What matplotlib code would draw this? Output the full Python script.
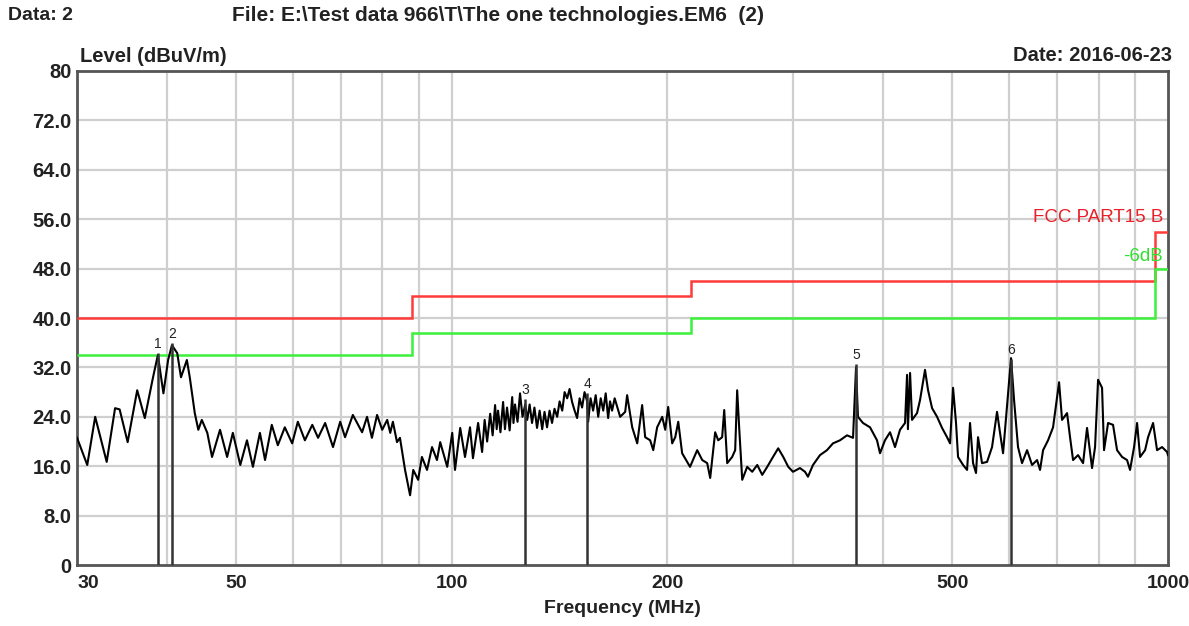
import matplotlib
matplotlib.use("Agg")
import matplotlib.pyplot as plt
from matplotlib import font_manager

freq = [30.0, 31.0, 31.8, 33.0, 33.9, 34.4, 35.3, 36.4, 37.3, 38.3, 38.9, 39.6, 40.2, 40.7, 41.4,
        41.9, 42.7, 43.1, 43.8, 44.3, 44.8, 45.6, 46.3, 47.5, 48.6, 49.5, 50.7, 51.8, 52.8, 54.0,
        54.9, 56.1, 57.2, 58.5, 59.9, 61.0, 62.4, 63.9, 65.1, 66.6, 68.3, 69.9, 71.0, 72.8,
        75.0, 76.2, 77.4, 78.7, 80.0, 81.3, 82.1, 82.8, 83.9, 84.7, 86.1, 87.5, 88.4, 89.8,
        90.9, 92.4, 93.9, 95.4, 96.4, 98.6, 100.2, 101.1, 102.8, 104.4, 106.1, 107.1, 108.9,
        110.3, 111.2, 112.1, 113.2, 114.1, 115.0, 115.6, 116.1, 117.0, 118.0, 118.7, 119.5,
        120.5, 121.5, 122.0, 122.6, 123.6, 124.6, 125.6, 126.7, 127.5, 128.5, 129.5, 130.5,
        131.6, 132.7, 133.8, 134.8, 135.9, 137.0, 138.1, 139.2, 140.4, 141.5, 142.7, 143.8,
        145.0, 146.1, 147.3, 148.5, 149.7, 150.9, 152.1, 153.3, 154.6, 155.1, 156.3, 157.6,
        158.9, 160.2, 161.5, 162.8, 164.1, 165.4, 166.4, 167.5, 168.9, 170.3,
        171.9, 174.7, 175.8, 178.7, 181.6, 184.5, 186.3, 189.3, 191.2, 193.6, 196.8, 198.7,
        200.6, 203.2, 205.2, 207.2, 209.8, 213.2, 215.2, 220.2, 223.8, 227.4, 229.6, 233.3,
        235.6, 238.6, 240.2, 242.5, 246.4, 248.8, 250.4, 252.0, 254.5, 258.6, 262.8, 267.1,
        271.4, 275.8, 280.3, 285.7, 290.4, 295.1, 299.6, 306.4, 311.4, 314.4, 319.5, 326.8,
        334.2, 340.7, 348.5, 356.4, 363.4, 366.9, 369.2, 375.2, 383.8, 392.5,
        396.3, 402.7, 409.3, 415.9, 422.6, 429.5, 432.3, 433.5, 436.5, 439.3, 446.4, 450.7,
        458.0, 462.5, 468.5, 476.1, 483.8, 491.6, 496.4, 501.2, 506.0, 509.3, 517.6, 524.3,
        529.3, 534.5, 539.6, 543.1, 550.1, 559.1, 568.1, 577.3, 582.9, 588.6, 598.1, 603.9,
        609.8, 617.6, 625.6, 635.8, 646.1, 656.6, 662.9, 669.4, 680.2, 691.2, 704.7, 711.5,
        723.0, 730.0, 737.1, 749.0, 761.2, 771.0, 783.5, 791.1, 798.8, 809.1, 814.3, 824.9,
        838.2, 849.1, 862.9, 876.8, 885.3, 896.8, 905.5, 914.3, 929.1, 938.1, 953.3, 965.6,
        981.3, 997.2, 1000.0]
level = [20.6, 16.2, 24.0, 16.7, 25.4, 25.2, 19.9, 28.3, 23.8, 30.4, 34.0, 27.8, 33.2, 35.6, 34.3,
         30.4, 33.2, 30.4, 24.6, 21.9, 23.5, 21.4, 17.5, 21.9, 17.5, 21.4, 16.2, 20.2, 15.9, 21.4,
         17.0, 22.7, 19.4, 22.3, 19.7, 23.2, 20.2, 22.7, 20.6, 23.0, 19.1, 23.2, 20.7, 24.3,
         21.5, 24.0, 20.6, 24.3, 21.9, 23.5, 21.4, 23.2, 19.9, 20.6, 15.4, 11.3, 15.4, 13.8,
         17.5, 15.4, 19.1, 17.0, 19.9, 15.9, 21.4, 15.4, 22.2, 17.5, 22.3, 17.3, 23.0,
         18.3, 23.5, 20.0, 24.5, 21.0, 25.9, 22.0, 25.0, 21.5, 26.4, 22.0, 25.5,
         21.8, 27.2, 23.0, 26.0, 23.2, 27.8, 24.0, 26.0, 23.5, 26.0, 23.0, 25.5,
         22.2, 25.0, 22.0, 24.8, 22.3, 25.0, 23.0, 25.3, 24.0, 26.5, 25.0, 28.0,
         27.0, 28.5, 26.4, 25.0, 23.8, 27.0, 25.5, 28.0, 26.5, 23.2, 27.0, 25.0,
         27.5, 24.0, 27.0, 25.0, 27.8, 23.8, 26.5, 25.0, 27.0, 25.6,
         24.0, 24.8, 27.5, 22.3, 19.7, 25.9, 20.7, 20.2, 18.6, 22.3, 24.0, 21.9,
         25.6, 19.7, 20.7, 23.2, 18.1, 16.7, 15.9, 18.6, 17.0, 16.5, 14.1, 21.5,
         20.2, 20.7, 25.1, 16.5, 17.5, 18.6, 28.3, 22.3, 13.8, 15.9, 15.1, 16.2,
         14.6, 15.9, 17.3, 18.9, 17.5, 15.9, 15.1, 15.7, 15.1, 14.3, 16.2, 17.8,
         18.6, 19.7, 20.2, 21.0, 20.6, 32.0, 24.0, 23.0, 22.3, 20.2,
         18.1, 20.2, 21.5, 19.1, 21.9, 23.0, 30.8, 22.0, 31.1, 23.5, 24.6, 26.7,
         31.6, 28.3, 25.4, 24.0, 22.2, 20.7, 19.7, 28.7, 23.0, 17.5, 16.2, 15.4,
         23.0, 16.5, 14.9, 20.7, 16.5, 16.7, 19.1, 24.8, 21.4, 18.1, 27.8, 33.5,
         26.7, 19.1, 16.5, 18.6, 16.2, 17.0, 15.4, 18.6, 20.2, 22.3, 29.6, 23.5,
         24.6, 20.7, 17.0, 17.8, 16.5, 22.2, 15.7, 19.1, 30.0, 28.7, 18.6, 23.0,
         22.7, 18.6, 17.5, 17.0, 15.4, 19.1, 23.0, 17.5, 18.6, 20.7, 23.0, 18.6,
         19.1, 18.3, 17.8]

# FCC part 15 class B limit and the -6 dB line
limit_edges = [30, 88, 216, 960, 1000]
fcc_limit = [40.0, 43.5, 46.0, 54.0]
margin_limit = [34.0, 37.5, 40.0, 48.0]

# peak markers
marker_no = ["1", "2", "3", "4", "5", "6"]
marker_freq = [38.9, 40.7, 126.7, 154.6, 366.9, 603.9]
marker_level = [34.3, 35.9, 26.9, 27.9, 32.5, 33.4]

y_ticks = [0, 8, 16, 24, 32, 40, 48, 56, 64, 72, 80]
y_labels = ["0", "8.0", "16.0", "24.0", "32.0", "40.0", "48.0", "56.0", "64.0", "72.0", "80"]
x_ticks = [30, 50, 100, 200, 500, 1000]
x_grid = [40, 50, 60, 70, 80, 90, 100, 200, 300, 400, 500, 600, 700, 800, 900]

names = {f.name for f in font_manager.fontManager.ttflist}
narrow = "Liberation Sans Narrow" if "Liberation Sans Narrow" in names else "Liberation Sans"
plt.rcParams['font.family'] = ['Liberation Sans', 'DejaVu Sans']

fig = plt.figure(figsize=(11.89, 6.26), dpi=100)
ax = fig.add_axes([0.0648, 0.0974, 0.9175, 0.7892])

ax.set_xscale('log')
ax.set_xlim(30, 1000)
ax.set_ylim(0, 80)

for y in y_ticks[1:-1]:
    ax.axhline(y, color='#cfcfcf', lw=1.6, zorder=1)
for x in x_grid:
    ax.axvline(x, color='#cfcfcf', lw=1.6, zorder=1)

ax.stairs(fcc_limit, limit_edges, baseline=None, color='#ff3b3b', lw=1.8, zorder=3)
ax.stairs(margin_limit, limit_edges, baseline=None, color='#3cf03c', lw=1.8, zorder=3)
ax.plot(freq, level, color='black', lw=1.5, zorder=4)

ax.vlines(marker_freq, 0, marker_level, color='#333333', lw=1.8, zorder=5)
for n, f, l in zip(marker_no, marker_freq, marker_level):
    ax.text(f, l + 0.3, n, ha='center', va='bottom', fontsize=10, color='#222222', zorder=6)

ax.text(0.9955, 56.2, "FCC PART15 B", transform=ax.get_yaxis_transform(), ha='right', va='center',
        color='#e8202a', fontsize=13.5)
ax.text(0.9955, 50.0, "-6dB", transform=ax.get_yaxis_transform(), ha='right', va='center',
        color='#30e030', fontsize=13.5)

ax.set_yticks(y_ticks)
ax.set_yticklabels(y_labels, fontsize=14.5, fontweight='bold', color='#222222')
ax.set_xticks(x_ticks)
ax.set_xticklabels([str(t) for t in x_ticks], fontsize=14, fontweight='bold', color='#222222',
                   family=narrow)
ax.xaxis.set_minor_locator(matplotlib.ticker.NullLocator())
ax.tick_params(axis='both', length=0)
ax.tick_params(axis='y', pad=4)
ax.tick_params(axis='x', pad=7)
ax.get_xticklabels()[0].set_horizontalalignment('left')

for s in ax.spines.values():
    s.set_color('#555555')
    s.set_linewidth(2)

ax.set_xlabel("Frequency (MHz)", fontsize=14, fontweight='bold', color='#222222', labelpad=6)

fig.text(0.007, 0.975, "Data: 2", fontsize=14, fontweight='bold', color='#222222', va='center')
fig.text(0.195, 0.975, "File: E:\\Test data 966\\T\\The one technologies.EM6  (2)", fontsize=15,
         fontweight='bold', color='#222222', va='center')
fig.text(0.067, 0.909, "Level (dBuV/m)", fontsize=14.5, fontweight='bold', color='#222222', va='center')
fig.text(0.986, 0.912, "Date: 2016-06-23", fontsize=14.5, fontweight='bold', color='#222222',
         va='center', ha='right')

fig.savefig("out.png", dpi=100)
